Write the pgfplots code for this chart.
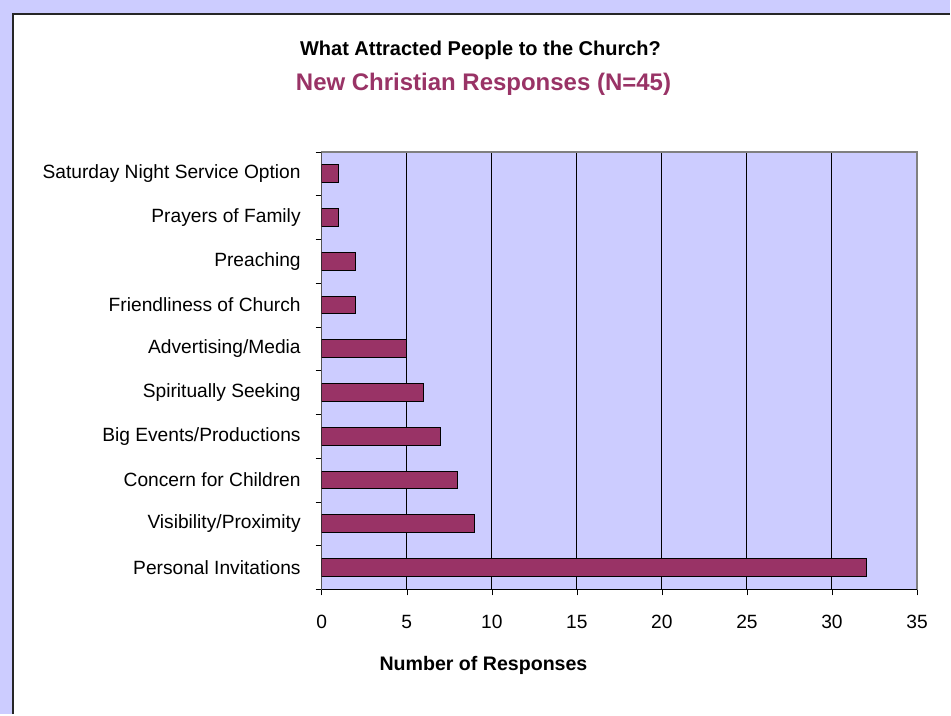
\documentclass[border=0pt]{standalone}
\usepackage{pgfplots}
\pgfplotsset{compat=1.18}
\usepackage{fontspec}
\setmainfont{Liberation Sans}
\definecolor{plum}{HTML}{993366}
\definecolor{lav}{HTML}{CCCCFF}
\begin{document}
\begin{tikzpicture}[x=0.5pt,y=0.5pt]
\fill[lav] (0,0) rectangle (951,715);
\fill[white] (13,0) rectangle (951,701);
\draw[black!85, line width=1pt] (13,0) -- (13,701) -- (951,701);
\node[font=\fontsize{10}{12}\selectfont\bfseries] at (481,665) {What Attracted People to the Church?};
\node[font=\fontsize{12}{14}\selectfont\bfseries, text=plum] at (484,631) {New Christian Responses (N=45)};
\node[font=\fontsize{9.8}{12}\selectfont\bfseries] at (484,49) {Number of Responses};
\begin{axis}[
  at={(161pt,62.5pt)}, anchor=south west,
  scale only axis, width=298pt, height=219pt,
  xbar, bar width=0.41,
  xmin=0, xmax=35, ymin=0.5, ymax=10.5,
  xtick={0,5,...,35},
  ytick={1,...,10},
  yticklabels={Personal Invitations,Visibility/Proximity,Concern for Children,Big Events/Productions,Spiritually Seeking,Advertising/Media,Friendliness of Church,Preaching,Prayers of Family,Saturday Night Service Option},
  minor ytick={0.5,1.5,...,10.5},
  major tick length=3pt,
  minor tick length=3pt,
  major y tick style={draw=none},
  tick style={black},
  tick align=outside, tick pos=left,
  xmajorgrids, grid style={black, line width=0.5pt},
  axis background/.style={fill=lav},
  axis line style={gray, line width=0.8pt},
  tick label style={font=\fontsize{9.6}{11}\selectfont},
  /pgf/number format/assume math mode=true,
  yticklabel style={xshift=-4pt},
  xticklabel style={yshift=-6.5pt},
]
\addplot[fill=plum, draw=black, line width=0.5pt] coordinates {
(32,1) (9,2) (8,3) (7,4) (6,5) (5,6) (2,7) (2,8) (1,9) (1,10)};
\draw[black, line width=0.6pt] (rel axis cs:0,1) -- (rel axis cs:0,0) -- (rel axis cs:1,0);
\end{axis}
\end{tikzpicture}
\end{document}
